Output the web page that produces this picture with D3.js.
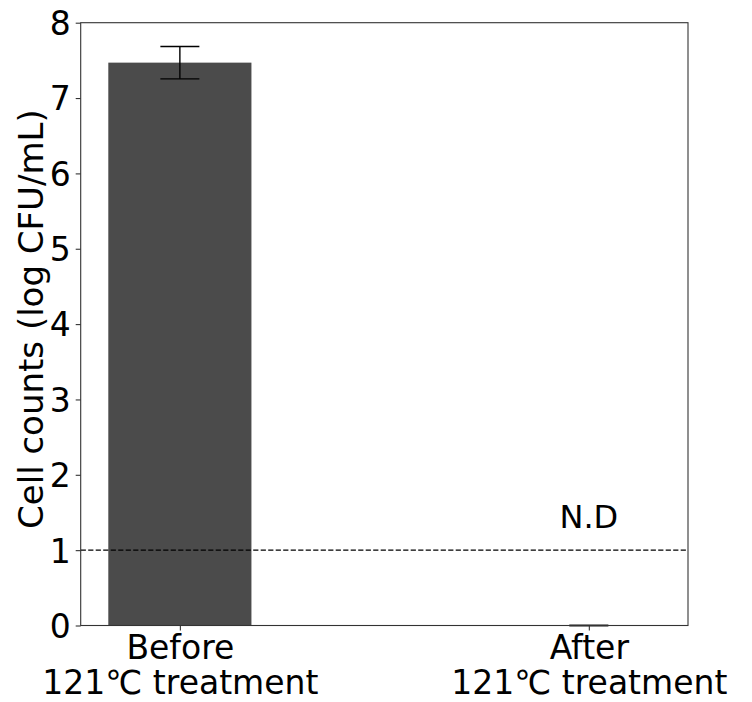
<!DOCTYPE html>
<html>
<head>
<meta charset="utf-8">
<script src="https://cdn.jsdelivr.net/npm/d3@7"></script>
<style>
  html, body { margin: 0; padding: 0; background: #fff; }
  svg { display: block; }
  text { font-family: "DejaVu Sans", sans-serif; fill: #000; }
</style>
</head>
<body>
<div id="chart"></div>
<script>
// Viable cell counts before and after autoclave treatment
const categories = ["Before\n121℃ treatment", "After\n121℃ treatment"];
const means = [7.47, 0];
const errors = [0.215, 0];
const detectionLimit = 1;
const notDetectedLabel = "N.D";
const notDetectedIndex = 1;
const notDetectedY = 1.3;
const yTicks = [0, 1, 2, 3, 4, 5, 6, 7, 8];
const yLabel = "Cell counts (log CFU/mL)";

const W = 752, H = 702;
const m = { left: 80.7, right: 752 - 688, top: 22.7, bottom: 702 - 625.5 };
const iw = W - m.left - m.right, ih = H - m.top - m.bottom;

const svg = d3.select("#chart").append("svg").attr("width", W).attr("height", H);
const g = svg.append("g").attr("transform", `translate(${m.left},${m.top})`);

const x = d3.scalePoint().domain(d3.range(categories.length)).range([0, iw]).padding(0.2425);
const y = d3.scaleLinear().domain([0, 8]).range([ih, 0]);
const barW = x.step() * 0.35;
const capW = 39;

// bars
g.selectAll("rect.bar").data(means).join("rect")
  .attr("class", "bar")
  .attr("x", (d, i) => x(i) - barW / 2)
  .attr("y", d => y(d))
  .attr("width", barW)
  .attr("height", d => y(0) - y(d))
  .attr("fill", "#4b4b4b");

// detection limit
g.append("line")
  .attr("x1", 0).attr("x2", iw)
  .attr("y1", y(detectionLimit)).attr("y2", y(detectionLimit))
  .attr("stroke", "#000").attr("stroke-width", 1.4)
  .attr("stroke-dasharray", "5.2,2.3");

// error bars
const eb = g.selectAll("g.err").data(means).join("g").attr("class", "err")
  .attr("stroke", "#000").attr("stroke-width", 1.4);
eb.append("line")
  .attr("x1", (d, i) => x(i)).attr("x2", (d, i) => x(i))
  .attr("y1", (d, i) => y(d + errors[i])).attr("y2", (d, i) => y(d - errors[i]));
eb.each(function(d, i) {
  [d + errors[i], d - errors[i]].forEach(v => {
    d3.select(this).append("line")
      .attr("x1", x(i) - capW / 2).attr("x2", x(i) + capW / 2)
      .attr("y1", y(v)).attr("y2", y(v));
  });
});

// N.D annotation
g.append("text")
  .attr("x", x(notDetectedIndex)).attr("y", y(notDetectedY))
  .attr("text-anchor", "middle")
  .attr("font-size", 32)
  .text(notDetectedLabel);

// frame
g.append("rect").attr("x", 0).attr("y", 0).attr("width", iw).attr("height", ih)
  .attr("fill", "none").attr("stroke", "#333").attr("stroke-width", 1.1);

// y axis
const ya = g.append("g").call(d3.axisLeft(y).tickValues(yTicks).tickSize(5).tickPadding(5).tickFormat(d3.format("d")));
ya.select(".domain").remove();
ya.selectAll(".tick line").attr("stroke", "#333").attr("stroke-width", 1.1);
ya.selectAll(".tick text").attr("font-size", 33).attr("font-family", "DejaVu Sans").attr("fill", "#000").attr("dy", "0.36em");

// x axis
const xa = g.append("g").attr("transform", `translate(0,${ih})`)
  .call(d3.axisBottom(x).tickSize(5).tickFormat(() => ""));
xa.select(".domain").remove();
xa.selectAll(".tick line").attr("stroke", "#333").attr("stroke-width", 1.1);
xa.selectAll(".tick").each(function(d, i) {
  const lines = categories[i].split("\n");
  const t = d3.select(this).append("text")
    .attr("text-anchor", "middle").attr("font-size", 33).attr("font-family", "DejaVu Sans").attr("fill", "#000");
  lines.forEach((s, k) => {
    t.append("tspan").attr("x", 0).attr("y", 33 + k * 35.5).text(s);
  });
});

// y axis title
svg.append("text")
  .attr("transform", `translate(43,${m.top + ih / 2 - 5}) rotate(-90)`)
  .attr("text-anchor", "middle")
  .attr("font-size", 34)
  .text(yLabel);
</script>
</body>
</html>
